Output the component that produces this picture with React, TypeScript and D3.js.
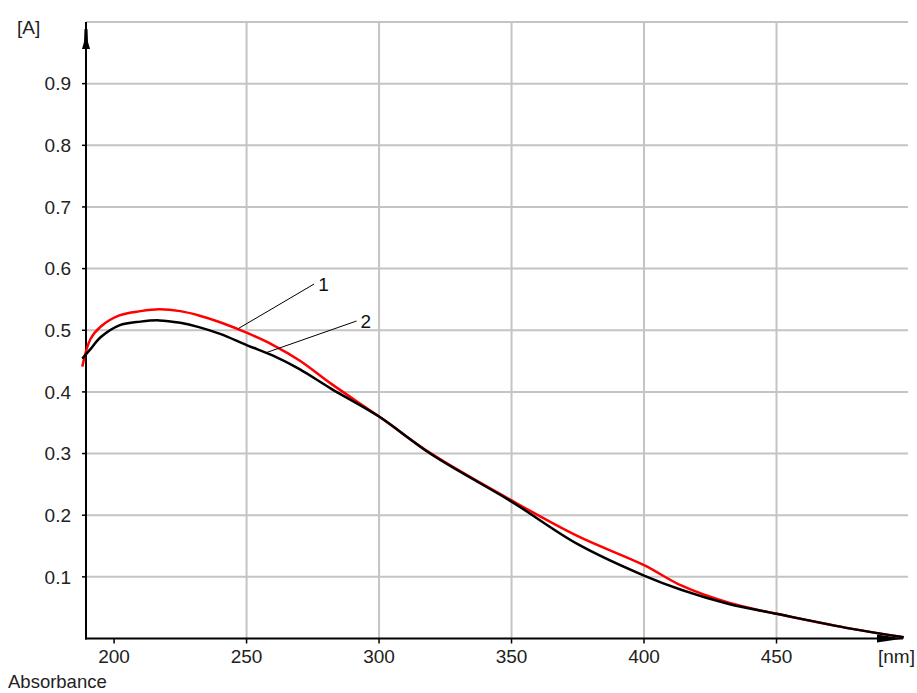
import React from "react";
import * as d3 from "d3";

// Wavelength grid (nm) shared by both spectra
const wavelengths = [188, 191, 195, 202, 210, 217, 225, 232, 240, 250, 260, 270, 282, 300, 320, 350, 375, 400, 414, 432, 450, 478, 498];
// Spectrum 1 (red)
const absorbance1 = [0.441, 0.485, 0.506, 0.524, 0.531, 0.534, 0.531, 0.524, 0.513, 0.496, 0.476, 0.451, 0.413, 0.36, 0.299, 0.224, 0.166, 0.119, 0.086, 0.058, 0.04, 0.016, 0.002];
// Spectrum 2 (black)
const absorbance2 = [0.454, 0.469, 0.489, 0.508, 0.514, 0.516, 0.512, 0.505, 0.494, 0.476, 0.459, 0.437, 0.405, 0.36, 0.298, 0.222, 0.153, 0.102, 0.079, 0.056, 0.04, 0.016, 0.002];

const xTicks = [200, 250, 300, 350, 400, 450];
const xGrid = [250, 300, 350, 400, 450];
const yTicks = [0.1, 0.2, 0.3, 0.4, 0.5, 0.6, 0.7, 0.8, 0.9];
const yGrid = [0.1, 0.2, 0.3, 0.4, 0.5, 0.6, 0.7, 0.8, 0.9, 1.0];

// Curve labels: anchor on the curve and end of leader line, in data units
const curveLabels = [
  { text: "1", from: [247, 0.503], to: [275.5, 0.575] },
  { text: "2", from: [257, 0.463], to: [291.5, 0.515] },
];

const W = 917;
const H = 693;
const FONT = "'Liberation Sans', Arial, sans-serif";

export default function App() {
  const x = d3.scaleLinear().domain([189.4, 500]).range([86, 909]);
  const y = d3.scaleLinear().domain([0, 1]).range([638.5, 22]);

  const line = d3
    .line<number>()
    .x((_, i) => x(wavelengths[i]))
    .y((d) => y(d))
    .curve(d3.curveCatmullRom.alpha(0.5));

  const left = x(189.4);
  const right = 908;
  const bottom = y(0);
  const top = y(1);

  return (
    <svg
      width={W}
      height={H}
      style={{ position: "absolute", left: 0, top: 0, background: "#fff" }}
      fontFamily={FONT}
    >
      <rect x={0} y={0} width={W} height={H} fill="#fff" />
      {/* grid */}
      {yGrid.map((v) => (
        <line key={"hy" + v} x1={left} x2={right} y1={y(v)} y2={y(v)} stroke="#c4c4c4" strokeWidth={2} />
      ))}
      {xGrid.map((v) => (
        <line key={"vx" + v} x1={x(v)} x2={x(v)} y1={top} y2={bottom} stroke="#c4c4c4" strokeWidth={2} />
      ))}

      {/* axes */}
      <line x1={left} x2={left} y1={top} y2={bottom + 1} stroke="#000" strokeWidth={2} />
      <line x1={left - 1} x2={903} y1={bottom} y2={bottom} stroke="#000" strokeWidth={2} />
      <path
        d={`M${left - 1.5},${top + 7} L${left + 1.5},${top + 7} L${left + 2},${top + 20} L${left + 4},${top + 27} L${left - 4},${top + 27} L${left - 2},${top + 20} Z`}
        fill="#000"
      />
      <path d={`M877,${bottom - 4} L904,${bottom} L877,${bottom + 4} Z`} fill="#000" />

      {/* ticks */}
      {yTicks.map((v) => (
        <g key={"yt" + v}>
          <line x1={left - 4} x2={left} y1={y(v)} y2={y(v)} stroke="#000" strokeWidth={1.5} />
          <text x={71} y={y(v)} dy="0.36em" textAnchor="end" fontSize={19} fill="#222">
            {d3.format(".1f")(v)}
          </text>
        </g>
      ))}
      {xTicks.map((v) => (
        <g key={"xt" + v}>
          <line x1={x(v)} x2={x(v)} y1={bottom} y2={bottom + 5} stroke="#000" strokeWidth={1.5} />
          <text x={x(v)} y={663} textAnchor="middle" fontSize={19} fill="#222">
            {v}
          </text>
        </g>
      ))}

      {/* unit labels */}
      <text x={17} y={34} fontSize={19} fill="#222">[A]</text>
      <text x={878} y={663} fontSize={19} fill="#222">[nm]</text>
      <text x={8} y={688} fontSize={18.5} fill="#222">Absorbance</text>

      {/* spectra */}
      <path d={line(absorbance1) || ""} fill="none" stroke="#ff0000" strokeWidth={2.5} />
      <path d={line(absorbance2) || ""} fill="none" stroke="#000" strokeWidth={2.5} />

      {/* curve labels */}
      {curveLabels.map((l) => (
        <g key={l.text}>
          <line
            x1={x(l.from[0])}
            y1={y(l.from[1])}
            x2={x(l.to[0])}
            y2={y(l.to[1])}
            stroke="#000"
            strokeWidth={1}
          />
          <text x={x(l.to[0]) + 4} y={y(l.to[1]) + 7} fontSize={19} fill="#111">
            {l.text}
          </text>
        </g>
      ))}
    </svg>
  );
}
